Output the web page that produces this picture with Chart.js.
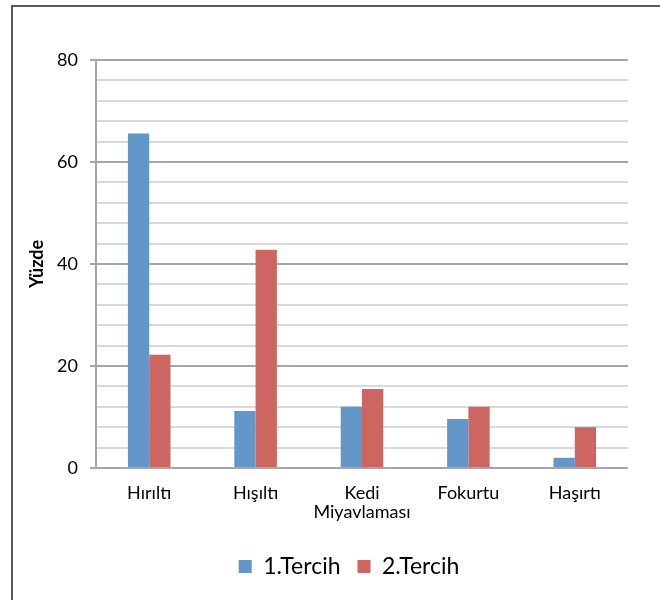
<!DOCTYPE html>
<html>
<head>
<meta charset="utf-8">
<script src="https://cdn.jsdelivr.net/npm/chart.js@4"></script>
<style>
  html, body { margin: 0; padding: 0; background: #fff; width: 660px; height: 600px; overflow: hidden; }
  #frame { position: absolute; left: 11px; top: 5px; width: 700px; height: 700px; border-left: 2px solid #5a5a5a; border-top: 2px solid #5a5a5a; }
  #wrap { position: absolute; left: 0; top: 0; width: 660px; height: 600px; }
</style>
</head>
<body>
<div id="frame"></div>
<div id="wrap"><canvas id="c" width="660" height="600"></canvas></div>
<script>
const categories = ['Hırıltı', 'Hışıltı', ['Kedi', 'Miyavlaması'], 'Fokurtu', 'Haşırtı'];
const seriesNames = ['1.Tercih', '2.Tercih'];
const tercih1 = [65.6, 11.2, 12.0, 9.6, 2.0];
const tercih2 = [22.2, 42.8, 15.5, 12.0, 8.0];
const yMin = 0, yMax = 80, yStep = 4, yLabelStep = 20;
const yTitle = 'Yüzde';

const FONT = 'Lato, "Open Sans", sans-serif';
const LEGEND_SHIFT = 24;
const isMajor = v => v % yLabelStep === 0;

const legendShift = {
  id: 'legendShift',
  afterLayout(chart) {
    chart.legend.left += LEGEND_SHIFT;
    chart.legend.right += LEGEND_SHIFT;
  }
};

new Chart(document.getElementById('c'), {
  type: 'bar',
  data: {
    labels: categories,
    datasets: [
      { label: seriesNames[0], data: tercih1, backgroundColor: '#6396c9', borderWidth: 0 },
      { label: seriesNames[1], data: tercih2, backgroundColor: '#cd6661', borderWidth: 0 }
    ]
  },
  plugins: [legendShift],
  options: {
    responsive: false,
    animation: false,
    devicePixelRatio: 1,
    layout: { padding: { left: 22, right: 32, top: 60, bottom: 12 } },
    plugins: {
      tooltip: { enabled: false },
      legend: {
        position: 'bottom',
        labels: {
          font: { family: FONT, size: 23 },
          color: '#000',
          boxWidth: 13,
          boxHeight: 13,
          padding: 17
        }
      }
    },
    datasets: { bar: { categoryPercentage: 0.4, barPercentage: 1.0 } },
    scales: {
      x: {
        grid: { display: false },
        border: { display: false },
        ticks: { font: { family: FONT, size: 18, lineHeight: 1.05 }, color: '#000', padding: 8, maxRotation: 0, autoSkip: false },
        afterFit: s => { s.height = 70; }
      },
      y: {
        min: yMin, max: yMax,
        title: { display: true, text: yTitle, font: { family: FONT, size: 18, weight: 'bold' }, color: '#000' },
        ticks: {
          stepSize: yStep,
          autoSkip: false,
          font: { family: FONT, size: 18 },
          color: '#000',
          padding: 12,
          callback: v => isMajor(v) ? String(v) : ''
        },
        grid: {
          color: c => isMajor(c.tick.value) ? '#a6a6a6' : '#d9d9d9',
          tickColor: c => isMajor(c.tick.value) ? '#a6a6a6' : 'rgba(0,0,0,0)',
          lineWidth: 2,
          tickLength: 6
        },
        border: { color: '#a6a6a6', width: 2 },
        afterFit: s => { s.width = 74; }
      }
    }
  }
});
</script>
</body>
</html>
